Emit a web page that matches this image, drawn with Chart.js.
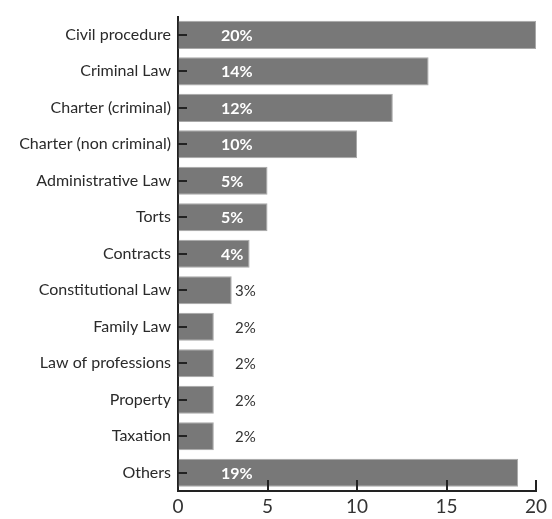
<!DOCTYPE html>
<html>
<head>
<meta charset="utf-8">
<script src="https://cdn.jsdelivr.net/npm/chart.js@4.4.1/dist/chart.umd.min.js"></script>
<style>
  html, body { margin: 0; padding: 0; background: #fff; }
  #wrap { width: 552px; height: 519px; }
</style>
</head>
<body>
<div id="wrap"><canvas id="areaChart"></canvas></div>
<script>
const categories = ['Civil procedure', 'Criminal Law', 'Charter (criminal)', 'Charter (non criminal)',
  'Administrative Law', 'Torts', 'Contracts', 'Constitutional Law', 'Family Law',
  'Law of professions', 'Property', 'Taxation', 'Others'];
const shares = [20, 14, 12, 10, 5, 5, 4, 3, 2, 2, 2, 2, 19];
const xTicks = [0, 5, 10, 15, 20];

const FONT = 'Lato, "Open Sans", sans-serif';

// value labels: white bold inside longer bars, dark beside short ones
const valueLabels = {
  id: 'valueLabels',
  afterDatasetsDraw(chart) {
    const ctx = chart.ctx;
    const meta = chart.getDatasetMeta(0);
    const x0 = chart.scales.x.getPixelForValue(0);
    ctx.save();
    ctx.textBaseline = 'middle';
    ctx.textAlign = 'left';
    meta.data.forEach((bar, i) => {
      const v = shares[i];
      if (v >= 4) {
        ctx.fillStyle = '#ffffff';
        ctx.font = 'bold 16px ' + FONT;
        ctx.fillText(v + '%', x0 + 43, bar.y + 1);
      } else {
        ctx.fillStyle = '#333333';
        ctx.font = '15px ' + FONT;
        ctx.fillText(v + '%', x0 + 57, bar.y + 1);
      }
    });
    ctx.restore();
  }
};

// short inward tick marks on both axes
const innerTicks = {
  id: 'innerTicks',
  afterDraw(chart) {
    const ctx = chart.ctx;
    const { x, y } = chart.scales;
    const area = chart.chartArea;
    ctx.save();
    ctx.strokeStyle = '#222';
    ctx.lineWidth = 2;
    ctx.beginPath();
    xTicks.forEach(t => {
      if (t === 0) return;
      const px = Math.round(x.getPixelForValue(t));
      ctx.moveTo(px, area.bottom);
      ctx.lineTo(px, area.bottom - 11);
    });
    categories.forEach((c, i) => {
      const py = Math.round(y.getPixelForValue(i));
      ctx.moveTo(area.left, py);
      ctx.lineTo(area.left + 9, py);
    });
    ctx.stroke();
    ctx.restore();
  }
};

new Chart(document.getElementById('areaChart'), {
  type: 'bar',
  data: {
    labels: categories,
    datasets: [{
      data: shares,
      backgroundColor: '#787878',
      borderColor: '#a8a8a8',
      borderWidth: 1,
      barPercentage: 0.77,
      categoryPercentage: 1
    }]
  },
  options: {
    indexAxis: 'y',
    responsive: true,
    maintainAspectRatio: false,
    animation: false,
    layout: { padding: { top: 12, right: 16, left: 0, bottom: 0 } },
    plugins: {
      legend: { display: false },
      tooltip: { enabled: false }
    },
    scales: {
      x: {
        min: 0,
        max: 20,
        afterBuildTicks(scale) { scale.ticks = xTicks.map(v => ({ value: v })); },
        afterFit(scale) { scale.height = 28; },
        grid: { drawOnChartArea: false, drawTicks: false },
        border: { display: true, color: '#222', width: 2 },
        ticks: {
          padding: 4,
          color: '#333',
          font: { family: FONT, size: 19 }
        }
      },
      y: {
        afterFit(scale) { scale.width = 178; },
        grid: { drawOnChartArea: false, drawTicks: false },
        border: { display: true, color: '#222', width: 2 },
        ticks: {
          padding: 7,
          color: '#2a2a2a',
          font: { family: FONT, size: 16 }
        }
      }
    }
  },
  plugins: [valueLabels, innerTicks]
});
</script>
</body>
</html>
